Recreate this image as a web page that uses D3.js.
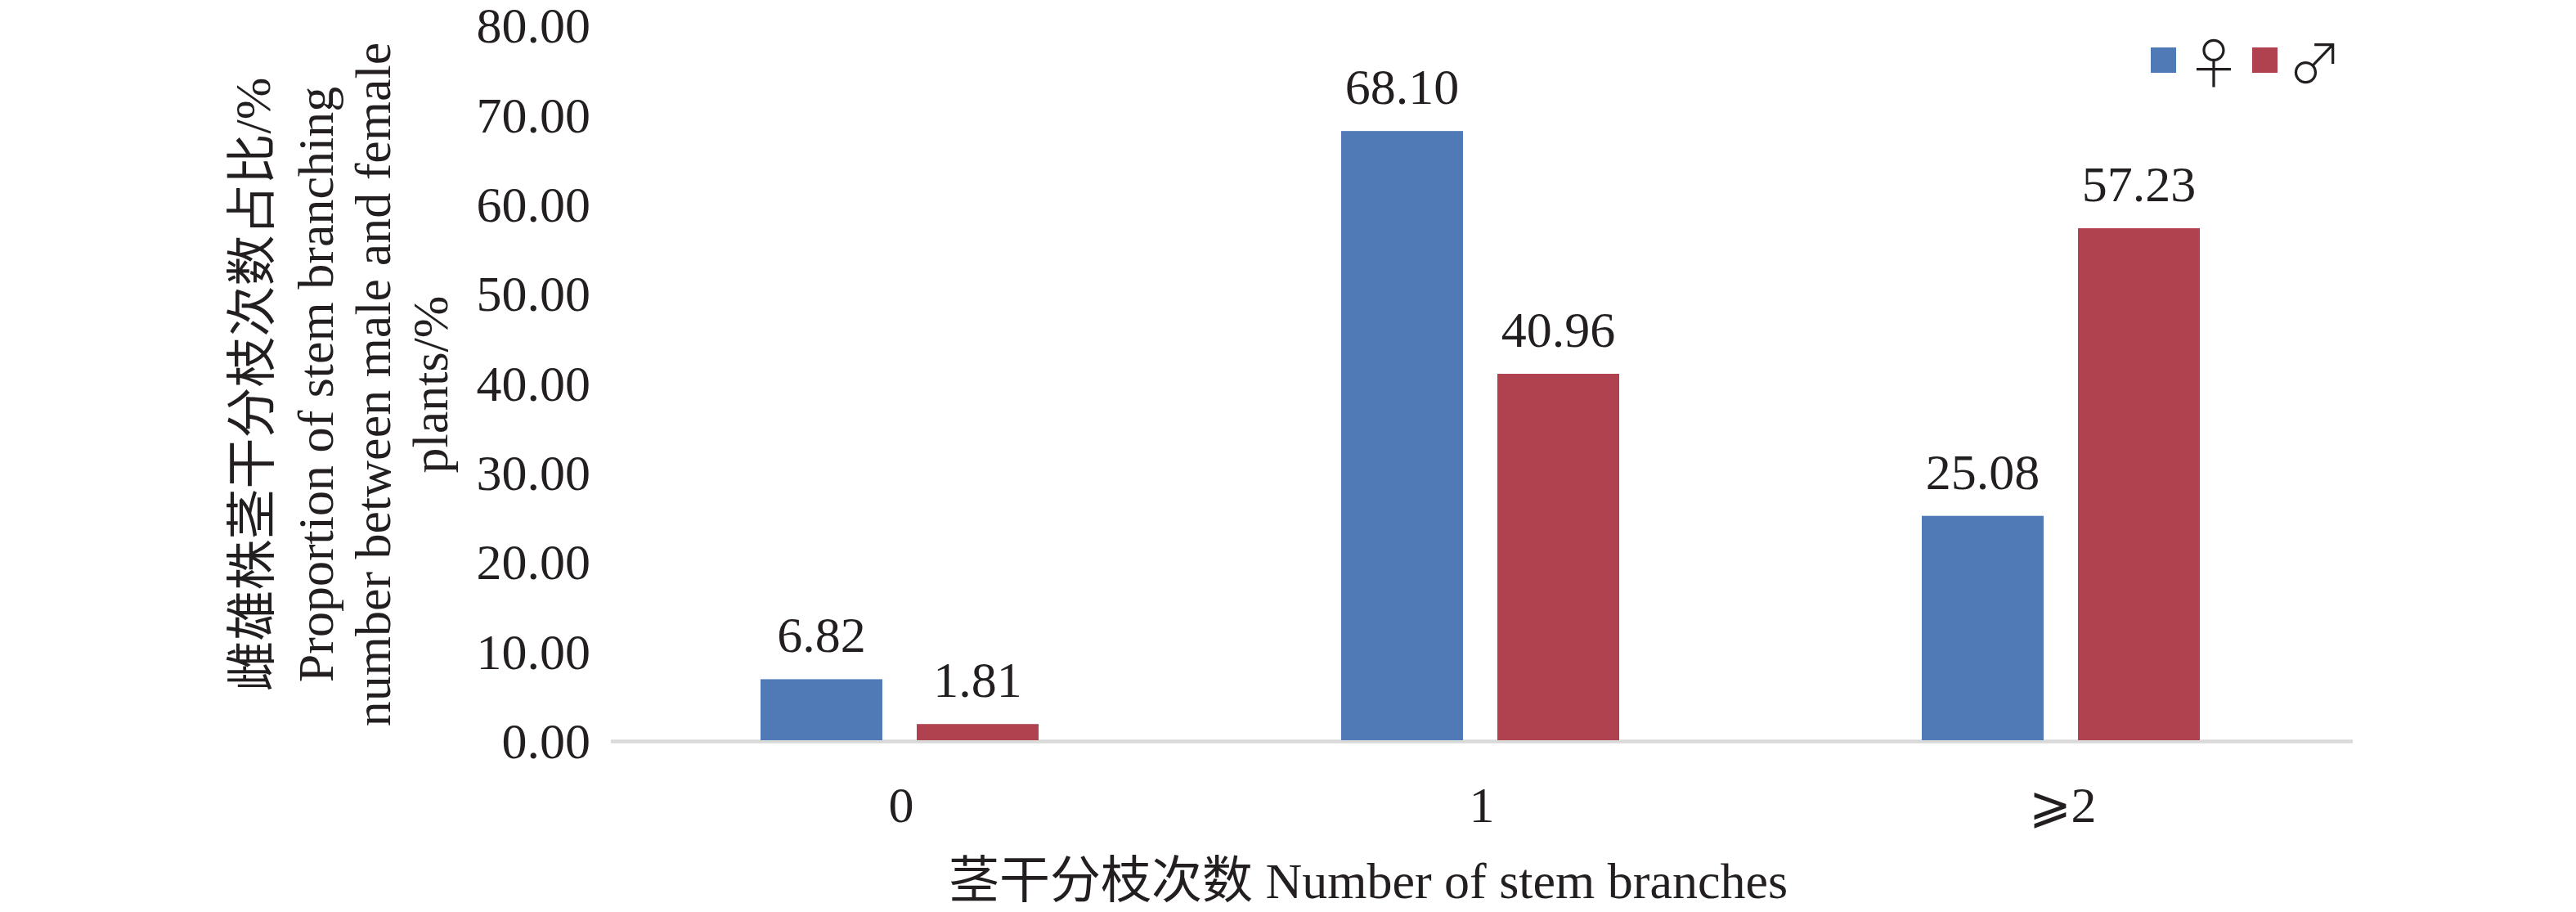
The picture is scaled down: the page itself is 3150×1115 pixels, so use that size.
<!DOCTYPE html>
<html><head><meta charset="utf-8">
<script src="https://cdn.jsdelivr.net/npm/d3@7"></script>
<style>
html,body{margin:0;padding:0;background:#fff;}
svg text{font-family:"Liberation Serif","Noto Sans CJK SC",serif;fill:#231f20;}
</style></head>
<body>
<svg id="chart" width="3150" height="1115"></svg>
<script>
// ---- data ----
const categories = ["0", "1", "\u2a7e2"];
const seriesNames = ["\u2640", "\u2642"];
const femaleValues = [6.82, 68.10, 25.08];
const maleValues = [1.81, 40.96, 57.23];
const yTicks = [0, 10, 20, 30, 40, 50, 60, 70, 80];
const seriesColors = ["#507ab5", "#b0424f"];
const yTitleLines = ["雌雄株茎干分枝次数占比/%", "Proportion of stem branching", "number between male and female", "plants/%"];
const xTitle = "茎干分枝次数 Number of stem branches";

(function () {
const svg = d3.select("#chart");
const FS = 62;
const plotLeft = 747, plotRight = 2877, plotTop = 30, plotBottom = 905;

const x0 = d3.scaleBand().domain(categories).range([plotLeft, plotRight]).paddingInner(0).paddingOuter(0);
const x1 = d3.scaleBand().domain(seriesNames).range([183, 523]).paddingInner(0.22);
const y = d3.scaleLinear().domain([0, 80]).range([plotBottom, plotTop]);
const color = d3.scaleOrdinal().domain(seriesNames).range(seriesColors);

const rows = categories.map((c, i) => ({cat: c, vals: [
  {s: seriesNames[0], v: femaleValues[i]},
  {s: seriesNames[1], v: maleValues[i]}]}));

// baseline axis line
svg.append("line").attr("x1", plotLeft).attr("x2", plotRight)
  .attr("y1", plotBottom + 1.5).attr("y2", plotBottom + 1.5)
  .attr("stroke", "#d9d9d9").attr("stroke-width", 4.5);

// y axis
const yAxis = svg.append("g").attr("transform", `translate(${plotLeft},0)`)
  .call(d3.axisLeft(y).tickValues(yTicks).tickFormat(d3.format(".2f")).tickSize(0).tickPadding(25));
yAxis.select(".domain").remove();
yAxis.selectAll("text").attr("font-size", FS).attr("dy", "0.35em")
  .style("font-family", '"Liberation Serif", serif').attr("fill", "#231f20");

// x axis
const xAxis = svg.append("g").attr("transform", `translate(0,${plotBottom})`)
  .call(d3.axisBottom(x0).tickSize(0).tickPadding(56));
xAxis.select(".domain").remove();
xAxis.selectAll("text").attr("font-size", FS).attr("dy", "0.71em")
  .style("font-family", '"Liberation Serif","DejaVu Serif", serif').attr("fill", "#231f20");

// bars
const g = svg.selectAll("g.cat").data(rows).enter().append("g")
  .attr("class", "cat").attr("transform", d => `translate(${x0(d.cat)},0)`);
g.selectAll("rect").data(d => d.vals).enter().append("rect")
  .attr("x", d => x1(d.s)).attr("width", x1.bandwidth())
  .attr("y", d => y(d.v)).attr("height", d => y(0) - y(d.v))
  .attr("fill", d => color(d.s));
g.selectAll("text.lbl").data(d => d.vals).enter().append("text")
  .attr("class", "lbl")
  .attr("x", d => x1(d.s) + x1.bandwidth() / 2)
  .attr("y", d => y(d.v) - 33)
  .attr("text-anchor", "middle").attr("font-size", FS)
  .text(d => d.v.toFixed(2));

// y title
const yt = svg.append("g");
const yBase = [330, 407, 477, 547];
yTitleLines.forEach((t, i) => {
  yt.append("text")
    .attr("transform", `translate(${yBase[i]},470) rotate(-90)`)
    .attr("text-anchor", "middle").attr("font-size", FS).text(t);
});

// x title
svg.append("text").attr("x", 1673).attr("y", 1098)
  .attr("text-anchor", "middle").attr("font-size", FS).text(xTitle);

// legend
const legX = [2630, 2754];
seriesNames.forEach((s, i) => {
  svg.append("rect").attr("x", legX[i]).attr("y", 58).attr("width", 31).attr("height", 31)
    .attr("fill", color(s));
  svg.append("text").attr("x", legX[i] + 44).attr("y", 102)
    .attr("font-size", 66).style("font-family", '"Noto Sans CJK SC", sans-serif')
    .style("font-weight", 300).text(s);
});
})();
</script>
</body></html>
